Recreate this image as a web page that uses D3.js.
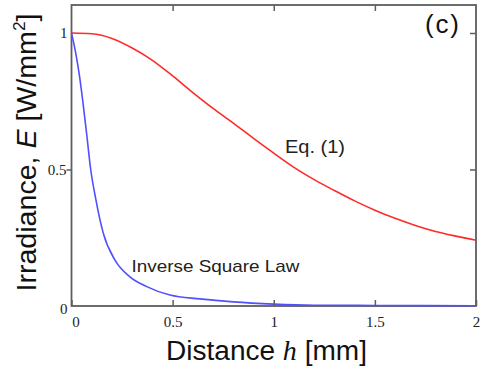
<!DOCTYPE html>
<html>
<head>
<meta charset="utf-8">
<script src="https://cdn.jsdelivr.net/npm/d3@7"></script>
<style>
  html, body { margin: 0; padding: 0; background: #fff; }
  svg { display: block; }
</style>
</head>
<body>
<svg id="chart" width="481" height="374"></svg>
<script>
// Distance h [mm] and irradiance E [W/mm^2] for the two models
const eqH = [0, 0.1, 0.2, 0.3, 0.4, 0.5, 0.6, 0.7, 0.8, 0.9, 1.0, 1.1, 1.2, 1.3, 1.4, 1.5, 1.6, 1.7, 1.8, 1.9, 2.0];
const eqE = [1.0, 0.997, 0.98, 0.945, 0.9, 0.843, 0.782, 0.724, 0.67, 0.614, 0.56, 0.508, 0.463, 0.423, 0.385, 0.351, 0.321, 0.295, 0.273, 0.256, 0.241];

const isqH = [0, 0.02, 0.04, 0.055, 0.075, 0.095, 0.121, 0.157, 0.215, 0.289, 0.372, 0.487, 0.635, 0.8, 1.0, 1.2, 1.5, 2.0];
const isqE = [1.0, 0.93, 0.84, 0.755, 0.63, 0.5, 0.388, 0.267, 0.168, 0.107, 0.071, 0.04, 0.026, 0.015, 0.007, 0.003, 0.002, 0.001];

const xTicks = [0, 0.5, 1, 1.5, 2];
const xTickLabels = ["0", "0.5", "1", "1.5", "2"];
const yTicks = [0, 0.5, 1];
const yTickLabels = ["0", "0.5", "1"];

const svg = d3.select("#chart");
const plotL = 71.5, plotR = 476, plotT = 5, plotB = 306;

const x = d3.scaleLinear().domain([0, 2]).range([plotL, plotR]);
const y = d3.scaleLinear().domain([0, 1.1]).range([plotB, plotB - 300.3]);

const axisColor = "#5e5e5e";
const serif = "'Liberation Serif', 'DejaVu Serif', serif";
const sans = "'Liberation Sans', Arial, sans-serif";

const line = d3.line().x(d => x(d[0])).y(d => y(d[1])).curve(d3.curveMonotoneX);

// Frame
svg.append("rect")
  .attr("x", plotL).attr("y", plotT)
  .attr("width", plotR - plotL).attr("height", plotB - plotT)
  .attr("fill", "none")
  .attr("stroke", axisColor)
  .attr("stroke-width", 1.8);

// Curves
svg.append("path")
  .datum(eqH.map((h, i) => [h, eqE[i]]))
  .attr("d", line)
  .attr("fill", "none")
  .attr("stroke", "#ff2a2a")
  .attr("stroke-width", 1.6);

svg.append("path")
  .datum(isqH.map((h, i) => [h, isqE[i]]))
  .attr("d", line)
  .attr("fill", "none")
  .attr("stroke", "#5050ff")
  .attr("stroke-width", 1.6);

// Bottom axis (ticks point inward)
const xAxis = d3.axisBottom(x).tickValues(xTicks).tickSize(-6).tickFormat((d, i) => xTickLabels[i]).tickPadding(10);
const gx = svg.append("g").attr("transform", `translate(0,${plotB})`).call(xAxis);
gx.select(".domain").remove();
gx.selectAll(".tick line").attr("stroke", axisColor).attr("stroke-width", 1.5);
gx.selectAll(".tick text")
  .attr("font-family", serif).attr("font-size", 15).attr("fill", "#222")
  .attr("dx", (d, i) => i === 0 ? 4 : 0);

// Top axis (inward ticks, no labels)
const gxt = svg.append("g").attr("transform", `translate(0,${plotT})`)
  .call(d3.axisTop(x).tickValues(xTicks.slice(1, -1)).tickSize(-6).tickFormat(""));
gxt.select(".domain").remove();
gxt.selectAll(".tick line").attr("stroke", axisColor).attr("stroke-width", 1.5);

// Left axis (outward tick at 0.5)
const yAxis = d3.axisLeft(y).tickValues(yTicks).tickSize(5).tickFormat((d, i) => yTickLabels[i]).tickPadding(1);
const gy = svg.append("g").attr("transform", `translate(${plotL},0)`).call(yAxis);
gy.select(".domain").remove();
gy.selectAll(".tick line").attr("stroke", axisColor).attr("stroke-width", 1.5)
  .attr("opacity", (d) => d === 0.5 ? 1 : 0);
gy.selectAll(".tick text")
  .attr("font-family", serif).attr("font-size", 15).attr("fill", "#222")
  .attr("dy", (d) => d === 0 ? "0.5em" : "0.32em")
  .attr("x", (d) => d === 0.5 ? -5 : -4);

// Right axis (inward ticks, no labels)
const gyr = svg.append("g").attr("transform", `translate(${plotR},0)`)
  .call(d3.axisRight(y).tickValues([0.5, 1]).tickSize(-6).tickFormat(""));
gyr.select(".domain").remove();
gyr.selectAll(".tick line").attr("stroke", axisColor).attr("stroke-width", 1.5);

// Axis titles
const xt = svg.append("text")
  .attr("x", 266.5).attr("y", 360)
  .attr("text-anchor", "middle")
  .attr("font-family", sans).attr("font-size", 27).attr("fill", "#111")
  .attr("textLength", 201).attr("lengthAdjust", "spacingAndGlyphs");
xt.append("tspan").text("Distance ");
xt.append("tspan").attr("font-family", serif).attr("font-style", "italic").text("h");
xt.append("tspan").text(" [mm]");

const yt = svg.append("text")
  .attr("transform", "translate(35.5,152.5) rotate(-90)")
  .attr("text-anchor", "middle")
  .attr("font-family", sans).attr("font-size", 28).attr("fill", "#111")
  .attr("textLength", 278).attr("lengthAdjust", "spacingAndGlyphs");
yt.append("tspan").text("Irradiance, ");
yt.append("tspan").attr("font-style", "italic").text("E");
yt.append("tspan").text(" [W/mm");
yt.append("tspan").attr("font-size", 17).attr("dy", -11).text("2");
yt.append("tspan").attr("dy", 11).text("]");

// Annotations
svg.append("text").attr("x", 425).attr("y", 33)
  .attr("font-family", sans).attr("font-size", 26).attr("fill", "#111")
  .attr("textLength", 34).attr("lengthAdjust", "spacing").text("(c)");
svg.append("text").attr("x", 285).attr("y", 153)
  .attr("font-family", sans).attr("font-size", 19).attr("fill", "#222")
  .attr("textLength", 60).attr("lengthAdjust", "spacingAndGlyphs").text("Eq. (1)");
svg.append("text").attr("x", 131.5).attr("y", 272)
  .attr("font-family", sans).attr("font-size", 17).attr("fill", "#222")
  .attr("textLength", 168).attr("lengthAdjust", "spacingAndGlyphs").text("Inverse Square Law");
</script>
</body>
</html>
